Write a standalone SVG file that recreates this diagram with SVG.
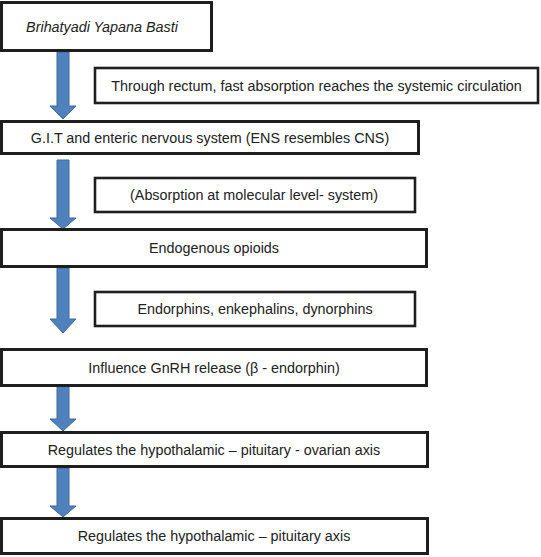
<svg xmlns="http://www.w3.org/2000/svg" width="541" height="557" viewBox="0 0 541 557">
<style>
.box{fill:#fff;stroke:#1e1e1e;stroke-width:3}
.side{fill:#fff;stroke:#1e1e1e;stroke-width:2.6}
.t{font-family:"Liberation Sans",Arial,sans-serif;font-size:14.35px;fill:#222;text-anchor:middle;dominant-baseline:central}
.arr{fill:#4f81bd;stroke:#3d6a9e;stroke-width:1}
</style>
<rect width="541" height="557" fill="#fff"/>
<g id="connectors">
<path class="arr" d="M57,52 H69 V106 H76 L63,119 L50,106 H57 Z"/>
<path class="arr" d="M57,160 H69 V218 H76 L63,229 L50,218 H57 Z"/>
<path class="arr" d="M57,268 H69 V319 H76 L63,333 L50,319 H57 Z"/>
<path class="arr" d="M57,386 H69 V419 H76 L63,431 L50,419 H57 Z"/>
<path class="arr" d="M57,468 H69 V506 H76 L63,517 L50,506 H57 Z"/>
</g>
<g id="n1"><rect class="box" x="1.5" y="2.5" width="210" height="48"/><text class="t" x="102" y="26.5" font-style="italic">Brihatyadi Yapana Basti</text></g>
<g id="s1"><rect class="side" x="95" y="68" width="443" height="35"/><text class="t" x="316.5" y="86">Through rectum, fast absorption reaches the systemic circulation</text></g>
<g id="n2"><rect class="box" x="1.5" y="121.5" width="417" height="32"/><text class="t" x="210" y="137.5">G.I.T and enteric nervous system (ENS resembles CNS)</text></g>
<g id="s2"><rect class="side" x="95" y="178" width="320" height="34"/><text class="t" x="254" y="195">(Absorption at molecular level- system)</text></g>
<g id="n3"><rect class="box" x="1.5" y="229.5" width="425" height="37"/><text class="t" x="214" y="248">Endogenous opioids</text></g>
<g id="s3"><rect class="side" x="95" y="292" width="320" height="34"/><text class="t" x="255" y="309">Endorphins, enkephalins, dynorphins</text></g>
<g id="n4"><rect class="box" x="1.5" y="349.5" width="425" height="36"/><text class="t" x="214" y="367.5">Influence GnRH release (β - endorphin)</text></g>
<g id="n5"><rect class="box" x="1.5" y="432.5" width="426" height="34"/><text class="t" x="214" y="449.5">Regulates the hypothalamic – pituitary - ovarian axis</text></g>
<g id="n6"><rect class="box" x="1.5" y="518.5" width="426" height="35"/><text class="t" x="214" y="536">Regulates the hypothalamic – pituitary axis</text></g>
</svg>
